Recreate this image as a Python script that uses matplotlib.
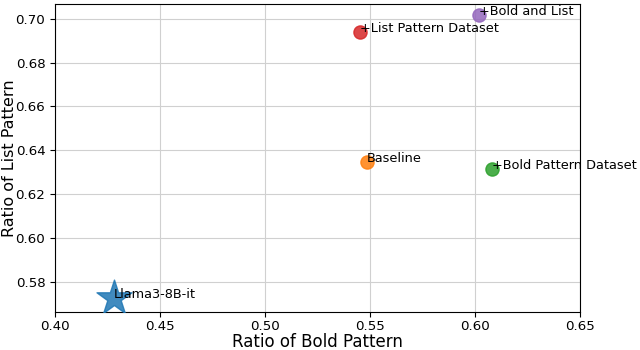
import matplotlib.pyplot as plt

# data
names = ['Llama3-8B-it', 'Baseline', '+List Pattern Dataset', '+Bold and List', '+Bold Pattern Dataset']
bold_ratio = [0.428, 0.5487, 0.5455, 0.6020, 0.6083]
list_ratio = [0.5728, 0.6345, 0.6940, 0.7017, 0.6313]
colors = ['tab:blue', 'tab:orange', 'tab:red', 'tab:purple', 'tab:green']
markers = ['*', 'o', 'o', 'o', 'o']
sizes = [700, 90, 90, 90, 90]

fig = plt.figure(figsize=(6.4, 3.5), dpi=100)
ax = fig.add_axes([0.086, 0.109, 0.820, 0.880])

for x, y, name, c, m, s in zip(bold_ratio, list_ratio, names, colors, markers, sizes):
    ax.scatter(x, y, color=c, marker=m, s=s, alpha=0.85, edgecolors=c, linewidths=1, zorder=3)
    ax.text(x, y, name, fontsize=9.3, zorder=4)

ax.set_xlim(0.40, 0.65)
ax.set_ylim(0.5663, 0.7068)
ax.set_xticks([0.40, 0.45, 0.50, 0.55, 0.60, 0.65])
ax.set_yticks([0.58, 0.60, 0.62, 0.64, 0.66, 0.68, 0.70])
ax.tick_params(labelsize=9.6)
ax.tick_params(axis='x', pad=2.5)
ax.grid(True, color='#d0d0d0', zorder=0)
ax.set_axisbelow(True)
ax.set_xlabel('Ratio of Bold Pattern', fontsize=12)
ax.set_ylabel('Ratio of List Pattern', fontsize=11.5)
ax.xaxis.set_label_coords(0.5, -0.069)
ax.yaxis.set_label_coords(-0.072, 0.5)

plt.savefig('out.png', format='png')
